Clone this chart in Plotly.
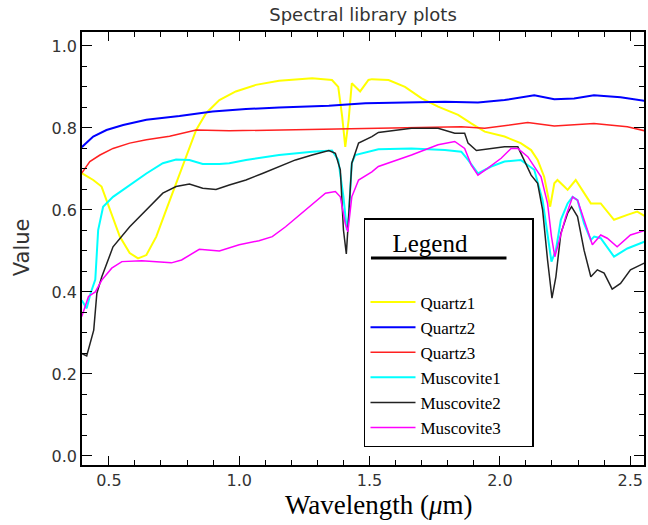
import plotly.graph_objects as go

# ---------------- data ----------------
quartz1_x = [0.396, 0.44, 0.472, 0.504, 0.542, 0.58, 0.612, 0.644, 0.682, 0.72, 0.758, 0.797, 0.835,
             0.873, 0.924, 0.987, 1.064, 1.153, 1.28, 1.356, 1.38, 1.395, 1.407, 1.42, 1.432, 1.464,
             1.496, 1.509, 1.573, 1.636, 1.70, 1.763, 1.84, 1.89, 1.942, 2.018, 2.08, 2.12, 2.145,
             2.17, 2.193, 2.209, 2.221, 2.247, 2.26, 2.291, 2.323, 2.349, 2.387, 2.438, 2.489, 2.527, 2.556]
quartz1_y = [0.69, 0.673, 0.657, 0.60, 0.535, 0.495, 0.482, 0.49, 0.535, 0.60, 0.665, 0.73, 0.795,
             0.836, 0.868, 0.889, 0.905, 0.915, 0.921, 0.917, 0.90, 0.828, 0.754, 0.82, 0.909, 0.889,
             0.917, 0.919, 0.917, 0.90, 0.872, 0.852, 0.832, 0.811, 0.791, 0.779, 0.763, 0.746, 0.722,
             0.681, 0.608, 0.665, 0.673, 0.657, 0.649, 0.673, 0.641, 0.616, 0.616, 0.576, 0.588, 0.596, 0.585]

quartz2_x = [0.396, 0.44, 0.491, 0.555, 0.644, 0.771, 0.898, 1.026, 1.153, 1.344, 1.484, 1.598, 1.789,
             1.916, 2.018, 2.132, 2.209, 2.285, 2.361, 2.463, 2.556]
quartz2_y = [0.753, 0.779, 0.795, 0.807, 0.82, 0.829, 0.84, 0.846, 0.85, 0.854, 0.86, 0.862, 0.864,
             0.862, 0.868, 0.88, 0.87, 0.872, 0.88, 0.875, 0.866]

quartz3_x = [0.396, 0.427, 0.466, 0.516, 0.58, 0.644, 0.733, 0.835, 0.962, 1.153, 1.407, 1.598, 1.852,
             1.942, 2.107, 2.209, 2.361, 2.489, 2.556]
quartz3_y = [0.69, 0.718, 0.734, 0.75, 0.763, 0.771, 0.78, 0.795, 0.793, 0.795, 0.798, 0.799, 0.803,
             0.799, 0.813, 0.805, 0.811, 0.803, 0.793]

muscovite1_x = [0.396, 0.415, 0.43, 0.448, 0.459, 0.478, 0.516, 0.58, 0.644, 0.707, 0.758, 0.809, 0.86,
                0.924, 0.962, 1.026, 1.153, 1.28, 1.356, 1.38, 1.40, 1.413, 1.42, 1.432, 1.445, 1.534,
                1.661, 1.789, 1.852, 1.878, 1.916, 1.967, 2.018, 2.08, 2.132, 2.164, 2.183, 2.198,
                2.215, 2.234, 2.26, 2.279, 2.298, 2.323, 2.349, 2.362, 2.387, 2.438, 2.489, 2.556]
muscovite1_y = [0.38, 0.36, 0.397, 0.43, 0.551, 0.608, 0.632, 0.661, 0.689, 0.714, 0.723, 0.722, 0.712,
                0.712, 0.714, 0.722, 0.734, 0.742, 0.745, 0.722, 0.632, 0.551, 0.584, 0.714, 0.734, 0.748,
                0.75, 0.746, 0.742, 0.722, 0.689, 0.706, 0.718, 0.722, 0.698, 0.624, 0.543, 0.474,
                0.502, 0.576, 0.616, 0.632, 0.624, 0.567, 0.527, 0.535, 0.531, 0.486, 0.506, 0.523]

muscovite2_x = [0.396, 0.415, 0.442, 0.454, 0.473, 0.492, 0.516, 0.58, 0.644, 0.707, 0.758, 0.809, 0.86,
                0.911, 0.962, 1.026, 1.089, 1.153, 1.216, 1.28, 1.344, 1.369, 1.388, 1.40, 1.411, 1.42,
                1.432, 1.458, 1.509, 1.534, 1.661, 1.763, 1.827, 1.865, 1.878, 1.91, 1.954, 2.018, 2.069,
                2.094, 2.12, 2.145, 2.164, 2.183, 2.20, 2.215, 2.234, 2.26, 2.275, 2.298, 2.323, 2.349,
                2.374, 2.40, 2.431, 2.463, 2.501, 2.556]
muscovite2_y = [0.25, 0.244, 0.307, 0.397, 0.437, 0.47, 0.51, 0.559, 0.60, 0.641, 0.657, 0.663, 0.653,
                0.65, 0.661, 0.673, 0.689, 0.706, 0.722, 0.734, 0.745, 0.738, 0.698, 0.551, 0.493, 0.584,
                0.714, 0.763, 0.779, 0.789, 0.799, 0.799, 0.787, 0.787, 0.763, 0.745, 0.748, 0.754, 0.754,
                0.722, 0.685, 0.665, 0.60, 0.478, 0.385, 0.437, 0.543, 0.592, 0.608, 0.584, 0.502, 0.437,
                0.454, 0.446, 0.407, 0.421, 0.454, 0.471]

muscovite3_x = [0.396, 0.422, 0.448, 0.473, 0.511, 0.55, 0.626, 0.74, 0.779, 0.847, 0.924, 1.0, 1.076,
                1.127, 1.178, 1.255, 1.331, 1.369, 1.388, 1.407, 1.417, 1.432, 1.458, 1.509, 1.534, 1.661,
                1.763, 1.827, 1.865, 1.89, 1.916, 1.954, 2.005, 2.043, 2.069, 2.107, 2.158, 2.183, 2.198,
                2.211, 2.228, 2.253, 2.279, 2.298, 2.323, 2.355, 2.387, 2.412, 2.45, 2.501, 2.556]
muscovite3_y = [0.34, 0.389, 0.40, 0.429, 0.458, 0.474, 0.476, 0.471, 0.478, 0.504, 0.50, 0.515, 0.525,
                0.535, 0.559, 0.60, 0.641, 0.645, 0.632, 0.567, 0.547, 0.632, 0.673, 0.693, 0.706, 0.734,
                0.759, 0.767, 0.75, 0.71, 0.685, 0.702, 0.726, 0.75, 0.75, 0.73, 0.681, 0.616, 0.535,
                0.486, 0.527, 0.584, 0.632, 0.624, 0.576, 0.515, 0.539, 0.531, 0.51, 0.539, 0.55]

series = [
    ("Quartz1", quartz1_x, quartz1_y, "#FFFF00", 2.0),
    ("Quartz2", quartz2_x, quartz2_y, "#0000FF", 2.0),
    ("Quartz3", quartz3_x, quartz3_y, "#FF2020", 1.5),
    ("Muscovite1", muscovite1_x, muscovite1_y, "#00FFFF", 2.0),
    ("Muscovite2", muscovite2_x, muscovite2_y, "#222222", 1.5),
    ("Muscovite3", muscovite3_x, muscovite3_y, "#FF00FF", 1.5),
]

x_ticks = [0.5, 1.0, 1.5, 2.0, 2.5]
y_ticks = [0.0, 0.2, 0.4, 0.6, 0.8, 1.0]

# ---------------- figure ----------------
W, H = 648, 525
ML, MR, MT, MB = 82, 2, 32, 60
PW, PH = W - ML - MR, H - MT - MB

fig = go.Figure()
for name, xs, ys, color, lw in series:
    fig.add_trace(go.Scatter(x=xs, y=ys, mode="lines", name=name,
                             line=dict(color=color, width=lw)))

tickfont = dict(family="DejaVu Sans", size=16, color="#333333")
fig.update_xaxes(range=[0.397, 2.553], tickvals=x_ticks,
                 ticktext=[f"{v:.1f}" for v in x_ticks],
                 ticks="inside", ticklen=9, tickwidth=1.2, tickcolor="black",
                 minor=dict(dtick=0.1, tick0=0.0, ticks="inside", ticklen=5, tickwidth=1.2, tickcolor="black"),
                 showline=True, linecolor="black", linewidth=1.5, mirror="allticks",
                 showgrid=False, zeroline=False, tickfont=tickfont)
fig.update_yaxes(range=[-0.022, 1.034], tickvals=y_ticks,
                 ticktext=[f"{v:.1f}" for v in y_ticks],
                 ticks="inside", ticklen=10, tickwidth=1.2, tickcolor="black",
                 minor=dict(dtick=0.05, tick0=0.0, ticks="inside", ticklen=5, tickwidth=1.2, tickcolor="black"),
                 showline=True, linecolor="black", linewidth=1.5, mirror="allticks",
                 showgrid=False, zeroline=False, tickfont=tickfont)

# underline below the legend title
fig.add_shape(type="line", xref="paper", yref="paper",
              x0=(372 - ML) / PW, x1=(508 - ML) / PW,
              y0=(H - MB - 258) / PH, y1=(H - MB - 258) / PH,
              line=dict(color="black", width=3))

fig.add_annotation(text="Wavelength (<i>μ</i>m)", xref="paper", yref="paper",
                   x=(380 - ML) / PW, y=(H - MB - 505) / PH, showarrow=False,
                   xanchor="center", yanchor="middle",
                   font=dict(family="Liberation Serif", size=27, color="black"))
fig.add_annotation(text="Value", xref="paper", yref="paper",
                   x=(22 - ML) / PW, y=(H - MB - 247) / PH, showarrow=False,
                   textangle=-90, xanchor="center", yanchor="middle",
                   font=dict(family="DejaVu Sans", size=21, color="#333333"))

fig.update_layout(
    width=W, height=H,
    margin=dict(l=ML, r=MR, t=MT, b=MB),
    paper_bgcolor="white", plot_bgcolor="white",
    title=dict(text="Spectral library plots", xref="paper", x=0.5, xanchor="center",
               yref="container", y=1 - 15 / H, yanchor="middle",
               font=dict(family="DejaVu Sans", size=18, color="#333333")),
    showlegend=True,
    legend=dict(x=(365 - ML) / PW, y=(H - MB - 218) / PH, xanchor="left", yanchor="top",
                bgcolor="rgba(0,0,0,0)", bordercolor="black", borderwidth=1.5,
                font=dict(family="Liberation Serif", size=17, color="black"),
                title=dict(text="\u00a0" * 4 + "Legend" + "\u00a0" * 10 + "<br>\u00a0",
                           font=dict(family="Liberation Serif", size=25, color="black")),
                itemwidth=45, tracegroupgap=0),
)

fig.write_html("out.html", config={"displayModeBar": False},
               post_script="document.body.style.margin='0';document.body.style.overflow='hidden';")
